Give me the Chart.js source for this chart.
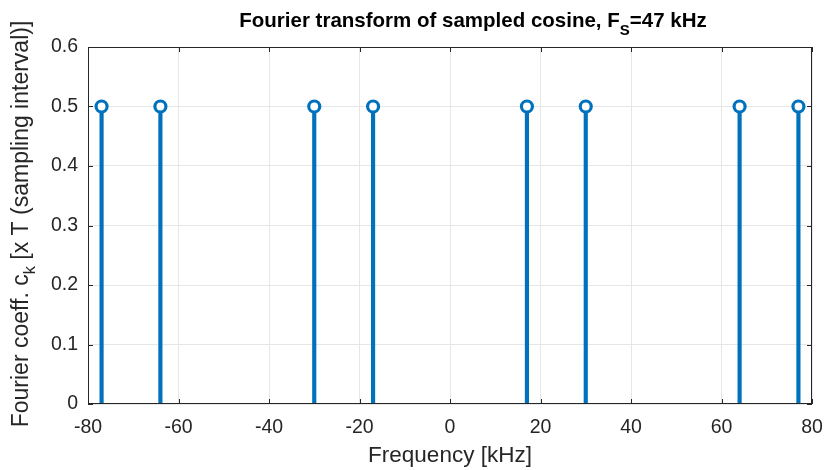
<!DOCTYPE html>
<html><head><meta charset="utf-8">
<script src="https://cdn.jsdelivr.net/npm/chart.js@4/dist/chart.umd.min.js"></script>
<style>html,body{margin:0;padding:0;background:#fff}#w{width:825px;height:470px;position:relative}</style>
</head><body><div id="w"><canvas id="c" width="825" height="470"></canvas></div>
<script>
const frequencies = [-77, -64, -30, -17, 17, 30, 64, 77];
const coefficients = [0.5, 0.5, 0.5, 0.5, 0.5, 0.5, 0.5, 0.5];
const xTicks = [-80, -60, -40, -20, 0, 20, 40, 60, 80];
const yTicks = [0, 0.1, 0.2, 0.3, 0.4, 0.5, 0.6];
const titleParts = ["Fourier transform of sampled cosine, F", "S", "=47 kHz"];
const yLabelParts = ["Fourier coeff. c", "k", " [x T (sampling interval)]"];
const xLabel = "Frequency [kHz]";

const FONT = "'Liberation Sans', Arial, Helvetica, sans-serif";
const BLUE = "#0072BD";
const TXT = "#262626";

const pts = frequencies.map((f, i) => ({x: f, y: coefficients[i]}));

function drawParts(ctx, parts, mainFont, subFont, subDy) {
  let x = 0;
  parts.forEach((p, i) => {
    const sub = i === 1;
    ctx.font = sub ? subFont : mainFont;
    ctx.fillText(p, x, sub ? subDy : 0);
    x += ctx.measureText(p).width;
  });
  return x;
}
function measureParts(ctx, parts, mainFont, subFont) {
  let w = 0;
  parts.forEach((p, i) => { ctx.font = i === 1 ? subFont : mainFont; w += ctx.measureText(p).width; });
  return w;
}

const decor = {
  id: 'decor',
  afterDraw(chart) {
    const {ctx, chartArea: a, scales} = chart;
    ctx.save();
    ctx.strokeStyle = "#262626";
    ctx.lineWidth = 1;
    ctx.strokeRect(a.left + 0.5, a.top + 0.5, a.right - a.left - 1, a.bottom - a.top - 1);
    const tl = 5;
    ctx.beginPath();
    xTicks.forEach(v => {
      const px = Math.round(scales.x.getPixelForValue(v)) + 0.5;
      ctx.moveTo(px, a.bottom); ctx.lineTo(px, a.bottom - tl);
      ctx.moveTo(px, a.top); ctx.lineTo(px, a.top + tl);
    });
    yTicks.forEach(v => {
      const py = Math.round(scales.y.getPixelForValue(v)) + 0.5;
      ctx.moveTo(a.left, py); ctx.lineTo(a.left + tl, py);
      ctx.moveTo(a.right, py); ctx.lineTo(a.right - tl, py);
    });
    ctx.stroke();
    // title
    ctx.fillStyle = "#000";
    ctx.textBaseline = "alphabetic";
    ctx.textAlign = "left";
    const tMain = "bold 20.5px " + FONT, tSub = "bold 15px " + FONT;
    const tw = measureParts(ctx, titleParts, tMain, tSub);
    ctx.save();
    ctx.translate(473 - tw / 2, 27);
    drawParts(ctx, titleParts, tMain, tSub, 8);
    ctx.restore();
    // y label
    ctx.fillStyle = TXT;
    const yMain = "23px " + FONT, ySub = "16.5px " + FONT;
    const yw = measureParts(ctx, yLabelParts, yMain, ySub);
    ctx.save();
    ctx.translate(28, 224 + yw / 2);
    ctx.rotate(-Math.PI / 2);
    drawParts(ctx, yLabelParts, yMain, ySub, 7);
    ctx.restore();
    ctx.restore();
  }
};

new Chart(document.getElementById('c'), {
  type: 'bar',
  data: {
    datasets: [
      {
        type: 'scatter',
        data: pts,
        pointStyle: 'circle',
        pointRadius: 5.5,
        pointBorderWidth: 3.2,
        pointBackgroundColor: '#ffffff',
        pointBorderColor: BLUE,
        order: 0
      },
      {
        type: 'bar',
        data: pts,
        backgroundColor: BLUE,
        borderWidth: 0,
        barThickness: 3.5,
        order: 1
      }
    ]
  },
  options: {
    responsive: false,
    animation: false,
    devicePixelRatio: 1,
    layout: {autoPadding: false, padding: {top: 47, right: 13, left: 0, bottom: 0}},
    plugins: {legend: {display: false}, tooltip: {enabled: false}},
    scales: {
      x: {
        type: 'linear', min: -80, max: 80, offset: false,
        afterBuildTicks(s) { s.ticks = xTicks.map(v => ({value: v})); },
        afterFit(s) { s.height = 66; s.paddingLeft = 0; s.paddingRight = 0; },
        grid: {color: '#e6e6e6', drawTicks: false, offset: false},
        border: {display: false},
        ticks: {color: TXT, font: {family: FONT, size: 19.5}, padding: 12, maxRotation: 0},
        title: {display: true, text: xLabel, color: TXT, font: {family: FONT, size: 22.5}, padding: {top: 0, bottom: 1}}
      },
      y: {
        type: 'linear', min: 0, max: 0.6,
        afterBuildTicks(s) { s.ticks = yTicks.map(v => ({value: v})); },
        afterFit(s) { s.width = 88; s.paddingTop = 0; s.paddingBottom = 0; },
        grid: {color: '#e6e6e6', drawTicks: false},
        border: {display: false},
        ticks: {color: TXT, font: {family: FONT, size: 19.5}, padding: 10, callback: v => String(+v.toFixed(1))}
      }
    }
  },
  plugins: [decor]
});
</script>
</body></html>
